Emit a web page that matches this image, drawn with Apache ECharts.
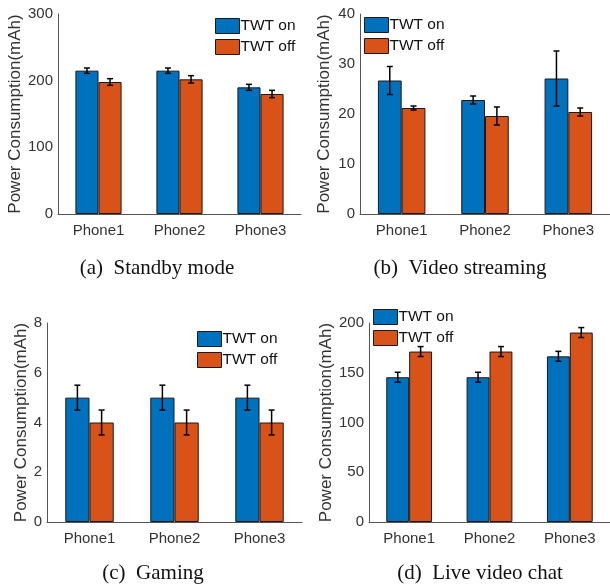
<!DOCTYPE html>
<html>
<head>
<meta charset="utf-8">
<script src="https://cdn.jsdelivr.net/npm/echarts@6/dist/echarts.min.js"></script>
<style>
html,body{margin:0;padding:0;background:#fff;}
#c{width:610px;height:586px;}
</style>
</head>
<body>
<div id="c"></div>
<script>
// ---- data ----
const categories = ['Phone1', 'Phone2', 'Phone3'];
const seriesNames = ['TWT on', 'TWT off'];

const standbyOn = [215, 215, 190];
const standbyOnErr = [4, 4, 4.5];
const standbyOff = [198, 202, 180];
const standbyOffErr = [5, 5.5, 5.5];

const videoOn = [26.7, 22.8, 27.1];
const videoOnErr = [2.8, 0.8, 5.5];
const videoOff = [21.2, 19.6, 20.4];
const videoOffErr = [0.4, 1.8, 0.8];

const gamingOn = [5, 5, 5];
const gamingOnErr = [0.5, 0.5, 0.5];
const gamingOff = [4, 4, 4];
const gamingOffErr = [0.5, 0.5, 0.5];

const liveOn = [145.5, 145.5, 166.5];
const liveOnErr = [5, 5, 5];
const liveOff = [171.3, 171.3, 190.4];
const liveOffErr = [5, 5, 5];

const yMax = [300, 40, 8, 200];
const yInterval = [100, 10, 2, 50];
const captions = ['(a)  Standby mode', '(b)  Video streaming', '(c)  Gaming', '(d)  Live video chat'];
const yLabel = 'Power Consumption(mAh)';

// ---- styles ----
const BLUE = '#0072BD', ORANGE = '#D95319';
const AXIS = '#555555', TEXT = '#333333';
const FONT = 'Liberation Sans, Arial, Helvetica, sans-serif';
const SERIF = 'Liberation Serif, Times New Roman, serif';
const BARFRAC = 0.285;

const panels = [
  {on: standbyOn, onE: standbyOnErr, off: standbyOff, offE: standbyOffErr,
   grid: {left: 58, top: 14, width: 243, height: 200}, nameGap: 34,
   legend: {left: 215, top: 18}, cap: [157, 268]},
  {on: videoOn, onE: videoOnErr, off: videoOff, offE: videoOffErr,
   grid: {left: 360, top: 14, width: 251, height: 200}, nameGap: 27,
   legend: {left: 364, top: 17}, cap: [460, 268]},
  {on: gamingOn, onE: gamingOnErr, off: gamingOff, offE: gamingOffErr,
   grid: {left: 47, top: 323, width: 255, height: 199}, nameGap: 17,
   legend: {left: 197, top: 331}, cap: [153, 573]},
  {on: liveOn, onE: liveOnErr, off: liveOff, offE: liveOffErr,
   grid: {left: 369, top: 323, width: 242, height: 199}, nameGap: 34,
   legend: {left: 373, top: 309}, cap: [480, 573]}
];

function errRender(sign) {
  return function (params, api) {
    const i = api.value(0), v = api.value(1), e = api.value(2);
    const band = api.size([1, 0])[0];
    const off = sign * band * BARFRAC / 2;
    const t = api.coord([i, v + e]);
    const b = api.coord([i, v - e]);
    const x = t[0] + off;
    const cw = 3;
    const st = {stroke: '#000', lineWidth: 1.5};
    return {
      type: 'group',
      children: [
        {type: 'line', shape: {x1: x, y1: t[1], x2: x, y2: b[1]}, style: st},
        {type: 'line', shape: {x1: x - cw, y1: t[1], x2: x + cw, y2: t[1]}, style: st},
        {type: 'line', shape: {x1: x - cw, y1: b[1], x2: x + cw, y2: b[1]}, style: st}
      ]
    };
  };
}

const grid = [], xAxis = [], yAxis = [], series = [], legend = [], graphic = [];
panels.forEach((p, k) => {
  grid.push(Object.assign({containLabel: false}, p.grid));
  xAxis.push({
    type: 'category', gridIndex: k, data: categories,
    axisLine: {show: true, lineStyle: {color: AXIS, width: 1}},
    axisTick: {show: false},
    axisLabel: {color: TEXT, fontSize: 15, fontFamily: FONT, margin: 9},
    splitLine: {show: false}
  });
  yAxis.push({
    type: 'value', gridIndex: k, min: 0, max: yMax[k], interval: yInterval[k],
    name: yLabel, nameLocation: 'middle', nameGap: p.nameGap,
    nameTextStyle: {color: TEXT, fontSize: 17, fontFamily: FONT},
    axisLine: {show: true, lineStyle: {color: AXIS, width: 1}},
    axisTick: {show: false},
    axisLabel: {color: TEXT, fontSize: 15, fontFamily: FONT, margin: 5},
    splitLine: {show: false}
  });
  const mk = (name, vals, color) => ({
    type: 'bar', name: name, xAxisIndex: k, yAxisIndex: k, data: vals,
    barWidth: (BARFRAC * 100) + '%', barGap: '0%',
    itemStyle: {color: color, borderColor: '#1a1a1a', borderWidth: 1},
    emphasis: {disabled: true}, animation: false
  });
  series.push(mk(seriesNames[0], p.on, BLUE));
  series.push(mk(seriesNames[1], p.off, ORANGE));
  series.push({
    type: 'custom', xAxisIndex: k, yAxisIndex: k, renderItem: errRender(-1),
    data: p.on.map((v, i) => [i, v, p.onE[i]]), encode: {x: 0, y: 1}, z: 10, animation: false
  });
  series.push({
    type: 'custom', xAxisIndex: k, yAxisIndex: k, renderItem: errRender(1),
    data: p.off.map((v, i) => [i, v, p.offE[i]]), encode: {x: 0, y: 1}, z: 10, animation: false
  });
  legend.push({
    left: p.legend.left, top: p.legend.top, orient: 'vertical',
    data: seriesNames, icon: 'rect', itemWidth: 24, itemHeight: 15, itemGap: 5,
    padding: 0, selectedMode: false,
    itemStyle: {borderColor: '#1a1a1a', borderWidth: 1},
    textStyle: {color: '#111', fontSize: 15.5, fontFamily: FONT, padding: [0, 0, 0, -4]}
  });
  graphic.push({
    type: 'text', x: p.cap[0], y: p.cap[1],
    style: {text: captions[k], fill: '#111', font: '21px ' + SERIF, textAlign: 'center', textVerticalAlign: 'middle'}
  });
});

const chart = echarts.init(document.getElementById('c'), null, {renderer: 'canvas'});
chart.setOption({
  backgroundColor: '#fff', animation: false,
  grid, xAxis, yAxis, series, legend, graphic
});
</script>
</body>
</html>
